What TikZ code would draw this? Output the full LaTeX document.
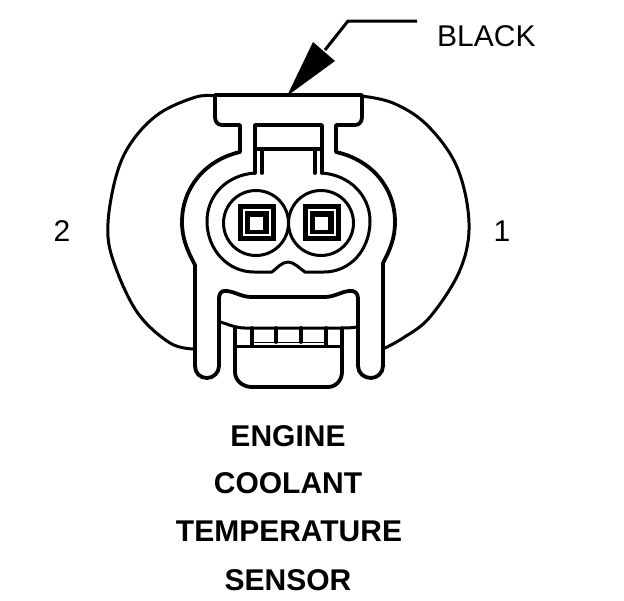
\documentclass[tikz,border=0pt]{standalone}
\usepackage{fontspec}
\setmainfont{Liberation Sans}
\tikzset{
  part/.style={line width=3.8pt,line join=round,line cap=round},
  thinpart/.style={line width=3pt,line join=round,line cap=round},
  plain/.style={inner sep=0pt,anchor=base,font=\fontsize{30}{32}\selectfont},
  title/.style={inner sep=0pt,anchor=base,font=\fontsize{30}{32}\selectfont\bfseries}
}
\begin{document}
\begin{tikzpicture}[x=1pt,y=-1pt]
\useasboundingbox (0,0) rectangle (624,600);
% side lobes
\draw[thinpart] plot[smooth,tension=0.6] coordinates {(216,96) (196,97) (160,113) (133,140) (117,173) (108,223) (113,260) (137,312) (170,343) (195,349)};
\draw[thinpart] plot[smooth,tension=0.6] coordinates {(361,96) (393,103) (427,125) (457,167) (469,223) (460,270) (430,317) (403,338) (383,349)};
% body outline with top flange and legs
\draw[part] (215,95) -- (362,95) -- (362,117) .. controls (362,122) and (359,125) .. (355,125) -- (336,125) -- (336,152)
  .. controls (372,160) and (395,188) .. (395,222) .. controls (395,238) and (390,250) .. (383,263)
  -- (383,366) .. controls (383,373) and (377,378) .. (371,378) .. controls (364,378) and (358,373) .. (358,366)
  -- (358,298) .. controls (358,293) and (354,290) .. (349,291) .. controls (340,292) and (335,297) .. (324,297)
  -- (252,297) .. controls (241,297) and (236,292) .. (227,291) .. controls (222,290) and (219,293) .. (219,298)
  -- (219,366) .. controls (219,373) and (213,378) .. (207,378) .. controls (200,378) and (195,373) .. (195,366)
  -- (195,265) .. controls (187,250) and (182,238) .. (182,222) .. controls (182,188) and (205,160) .. (240,152)
  -- (240,125) -- (222,125) .. controls (218,125) and (215,122) .. (215,117) -- cycle;
% socket slot
\draw[part] (255,173) -- (255,125) -- (322,125) -- (322,173);
\draw[part] (255,149) -- (322,149);
\draw[part] (262,149) -- (262,173) (315,149) -- (315,173);
% ring around cavities
\draw[thinpart] (255,173) .. controls (226,175) and (207,196) .. (207,221) .. controls (207,250) and (228,272) .. (254,272)
  -- (272,272) .. controls (277,268) and (282,262) .. (288,262) .. controls (294,262) and (299,268) .. (305,272)
  -- (324,272) .. controls (350,272) and (370,250) .. (370,221) .. controls (370,196) and (350,175) .. (322,173);
% cavities
\draw[thinpart] (256,223) circle[radius=32.5];
\draw[thinpart] (321,223) circle[radius=32.5];
% terminals
\foreach \dx in {0,65}{
  \begin{scope}[xshift=\dx pt]
    \fill (238,204) rectangle (276,241);
    \fill[white] (243,209) rectangle (271,236);
    \fill (245,211) rectangle (269,234);
    \draw[white,line width=1pt] (244.5,210.5) rectangle (269.5,234.5);
    \fill[white] (250,217) rectangle (263,230);
  \end{scope}
}
% lower tab
\draw[thinpart] (220,322) .. controls (228,324) and (235,328) .. (245,328) -- (340,328) .. controls (346,328) and (351,328) .. (357,327);
\draw[part] (235,327) -- (235,372) .. controls (235,380) and (242,387) .. (252,387) -- (328,387) .. controls (336,387) and (342,380) .. (342,372) -- (342,328);
\draw[thinpart] (236,346) -- (341,346);
\draw[line width=1.2pt] (252,342.5) -- (326,342.5);
\draw[part] (252,328) -- (252,346) (276,328) -- (276,342) (301,328) -- (301,342) (326,328) -- (326,346);
% leader
\coordinate (leaderend) at (417,21);
\coordinate (leaderbend) at (348,21);
\coordinate (leaderfoot) at (325,50);
\draw[line width=3pt] (leaderend) -- (leaderbend) -- (leaderfoot);
\fill (287,96) -- (313,42) -- (335,61) -- cycle;
% labels
\node[plain,anchor=base west] (colour) at (437,46) {BLACK};
\node[plain] (pintwo) at (62,241) {2};
\node[plain] (pinone) at (502,241) {1};
\node[title] (l1) at (288,446) {ENGINE};
\node[title] (l2) at (288,493) {COOLANT};
\node[title] (l3) at (289,541) {TEMPERATURE};
\node[title] (l4) at (288,590) {SENSOR};
\end{tikzpicture}
\end{document}
